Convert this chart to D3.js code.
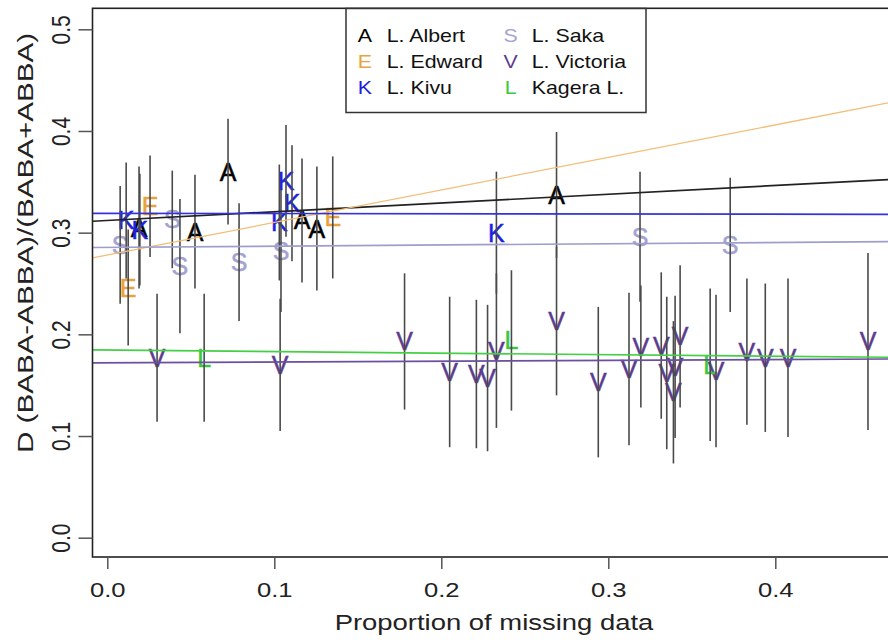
<!DOCTYPE html>
<html><head><meta charset="utf-8">
<script src="https://cdn.jsdelivr.net/npm/d3@7"></script>
<style>body{margin:0;background:#fff}svg{display:block}text{font-family:"Liberation Sans",Arial,sans-serif}</style>
</head><body><svg id="c" width="888" height="642"></svg>
<script>
// ---- data ----
const groups = ["A","E","K","S","V","L"];
const groupNames = ["L. Albert","L. Edward","L. Kivu","L. Saka","L. Victoria","Kagera L."];
const groupColors = ["#000000","#E8A33D","#1F1FE0","#A3A3D1","#5B3B8F","#3CC83C"];
const lineColors  = ["#222222","#F2BE78","#3333DD","#9E9ECC","#6B4FA0","#44D044"];

const albertX = [0.019,0.0525,0.0723,0.1166,0.1255,0.269];
const albertY = [0.305,0.301,0.360,0.312,0.304,0.337];
const albertE = [0.060,0.056,0.052,0.061,0.061,0.062];

const edwardX = [0.0125,0.0256,0.135];
const edwardY = [0.246,0.326,0.315];
const edwardE = [0.057,0.050,0.060];

const kivuX = [0.0113,0.0195,0.103,0.107,0.1106,0.233];
const kivuY = [0.312,0.303,0.310,0.351,0.329,0.300];
const kivuE = [0.057,0.055,0.057,0.055,0.057,0.060];

const sakaX = [0.0077,0.0389,0.0435,0.0789,0.104,0.319,0.373];
const sakaY = [0.288,0.313,0.267,0.271,0.282,0.296,0.288];
const sakaE = [0.058,0.048,0.066,0.058,0.060,0.064,0.066];

const victoriaX = [0.0298,0.1035,0.178,0.205,0.221,0.2277,0.233,0.269,0.294,0.3124,0.3195,0.3317,0.335,0.339,0.340,0.343,0.3645,0.383,0.394,0.4076,0.4555];
const victoriaY = [0.177,0.170,0.193,0.163,0.161,0.157,0.184,0.213,0.153,0.166,0.188,0.189,0.162,0.143,0.168,0.198,0.164,0.183,0.177,0.177,0.193];
const victoriaE = [0.063,0.065,0.067,0.074,0.073,0.072,0.076,0.073,0.074,0.075,0.060,0.072,0.075,0.070,0.070,0.070,0.075,0.072,0.073,0.078,0.087];

const kageraX = [0.058,0.242,0.361];
const kageraY = [0.177,0.194,0.170];
const kageraE = [0.063,0.069,0.075];

// regression lines: intercept, slope (order as groups)
const lineIntercepts = [0.312,0.278,0.319,0.2855,0.172,0.1845];
const lineSlopes     = [0.086,0.320,-0.002,0.012,0.008,-0.015];

const xTicks = [0,0.1,0.2,0.3,0.4];
const yTicks = [0,0.1,0.2,0.3,0.4,0.5];
const xTitle = "Proportion of missing data";
const yTitle = "D (BABA-ABBA)/(BABA+ABBA)";

// ---- layout ----
const svg = d3.select("#c");
const L = 92.5, T = 8.3, B = 557, R = 892;
const x = d3.scaleLinear().domain([0,0.4]).range([107.3,775.3]);
const y = d3.scaleLinear().domain([0,0.5]).range([537.7,29.3]);
const SX = 1.22;

const series = [
  [albertX,albertY,albertE],[edwardX,edwardY,edwardE],[kivuX,kivuY,kivuE],
  [sakaX,sakaY,sakaE],[victoriaX,victoriaY,victoriaE],[kageraX,kageraY,kageraE]
];
const pts = [];
series.forEach((s,gi)=>s[0].forEach((xv,i)=>pts.push({g:gi,x:xv,y:s[1][i],e:s[2][i]})));

// letters (drawn first; bars pass over them as in the reference)
svg.append("g").selectAll("text").data(pts).join("text")
  .attr("x",d=>x(d.x)).attr("y",d=>y(d.y)+9)
  .attr("text-anchor","middle").attr("font-size",25)
  .attr("fill",d=>groupColors[d.g])
  .attr("stroke",d=>groupColors[d.g]).attr("stroke-width",0.5)
  .text(d=>groups[d.g]);

// error bars
svg.append("g").selectAll("line").data(pts).join("line")
  .attr("x1",d=>x(d.x)).attr("x2",d=>x(d.x))
  .attr("y1",d=>y(d.y+d.e)).attr("y2",d=>y(d.y-d.e))
  .attr("stroke","#4a4a4a").attr("stroke-width",1.6);

// regression lines
const x0 = x.invert(L), x1 = x.invert(R);
svg.append("g").selectAll("line").data(groups).join("line")
  .attr("x1",x(x0)).attr("x2",x(x1))
  .attr("y1",(d,i)=>y(lineIntercepts[i]+lineSlopes[i]*x0))
  .attr("y2",(d,i)=>y(lineIntercepts[i]+lineSlopes[i]*x1))
  .attr("stroke",(d,i)=>lineColors[i])
  .attr("stroke-width",(d,i)=> i===1?1.3:1.7);

// plot box
svg.append("rect").attr("x",L).attr("y",T).attr("width",R-L).attr("height",B-T)
  .attr("fill","none").attr("stroke","#222").attr("stroke-width",1.6);

// x axis
const gx = svg.append("g").attr("transform",`translate(0,${B})`)
  .call(d3.axisBottom(x).tickValues(xTicks).tickSize(12).tickFormat(d3.format(".1f")));
gx.select(".domain").remove();
gx.selectAll(".tick line").attr("stroke","#555").attr("stroke-width",1.5);
gx.selectAll(".tick text").attr("y",0).attr("dy",0)
  .attr("transform",`translate(0,39.7) scale(${SX},1)`)
  .attr("font-size",21).attr("fill","#222").attr("font-family",null);

// y axis
const gy = svg.append("g").attr("transform",`translate(${L},0)`)
  .call(d3.axisLeft(y).tickValues(yTicks).tickSize(14).tickFormat(d3.format(".1f")));
gy.select(".domain").remove();
gy.selectAll(".tick line").attr("stroke","#555").attr("stroke-width",1.5);
gy.selectAll(".tick text").attr("x",0).attr("y",0).attr("dy",0)
  .attr("text-anchor","middle")
  .attr("transform",`translate(-23,0) scale(${SX},1) rotate(-90)`)
  .attr("font-size",21).attr("fill","#222").attr("font-family",null);

// titles
svg.append("text").attr("transform",`translate(494,630) scale(${SX},1)`)
  .attr("text-anchor","middle").attr("font-size",22.5).attr("fill","#222").text(xTitle);
svg.append("text").attr("transform",`translate(33,243) scale(${SX},1) rotate(-90)`)
  .attr("text-anchor","middle").attr("font-size",17.5).attr("fill","#222")
  .attr("textLength",420).attr("lengthAdjust","spacingAndGlyphs").text(yTitle);

// legend
const lg = svg.append("g");
lg.append("rect").attr("x",346).attr("y",8.5).attr("width",300).attr("height",104)
  .attr("fill","#fff").attr("stroke","#333").attr("stroke-width",1.5);
const legCols = [[365,386.7],[510.7,531.7]];
const legRows = [42.3,68.3,94.3];
groups.forEach((g,i)=>{
  const c = Math.floor(i/3), r = i%3;
  lg.append("text").attr("transform",`translate(${legCols[c][0]},${legRows[r]}) scale(${SX},1)`)
    .attr("text-anchor","middle").attr("font-size",17.5).attr("fill",groupColors[i]).text(g);
  lg.append("text").attr("transform",`translate(${legCols[c][1]},${legRows[r]}) scale(${SX},1)`)
    .attr("font-size",17.5).attr("fill","#111").text(groupNames[i]);
});
</script></body></html>
